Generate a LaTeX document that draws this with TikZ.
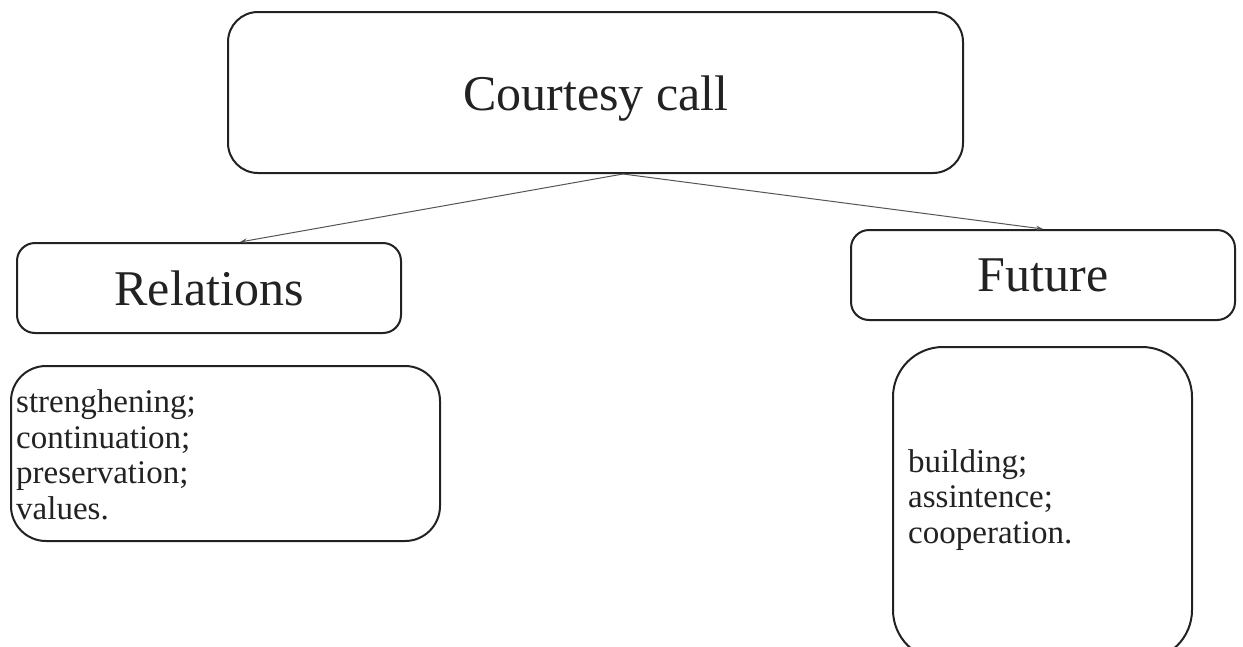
\documentclass[tikz,border=0pt]{standalone}
\usepackage{fontspec}
\setmainfont{Liberation Serif}
\usetikzlibrary{calc,arrows.meta}
\definecolor{ink}{HTML}{222222}
\definecolor{wire}{HTML}{555555}
\tikzset{
  box/.style={draw=ink, line width=2pt, inner sep=0pt},
  title/.style={anchor=base, text=ink, font=\fontsize{50}{60}\selectfont, inner sep=0pt},
  items/.style={anchor=base west, text=ink, align=left, inner sep=0pt, font=\fontsize{33}{35.5}\selectfont},
  link/.style={draw=wire, line width=1pt, -{Stealth[length=7pt,width=5pt]}}
}
\begin{document}
\begin{tikzpicture}[x=1pt,y=-1pt]
\useasboundingbox (0,0) rectangle (1243,646);
\clip (0,0) rectangle (1243,646);
\path[fill=white] (0,0) rectangle (1243,646);
% boxes
\node[box, rounded corners=30pt, minimum width=735pt, minimum height=161pt] (top) at (595.5,92.5) {};
\node[box, rounded corners=18pt, minimum width=384pt, minimum height=90pt] (rel) at (209,288) {};
\node[box, rounded corners=18pt, minimum width=384pt, minimum height=90pt] (fut) at (1043,275) {};
\node[box, rounded corners=35pt, minimum width=429pt, minimum height=175pt] (relitems) at (225.5,453.5) {};
\node[box, rounded corners=50pt, minimum width=299pt, minimum height=313pt] (futitems) at (1042.5,503.5) {};
% texts
\node[title] (toptxt) at (596,110) {Courtesy call};
\node[title] (reltxt) at (209,305) {Relations};
\node[title] (futtxt) at (1043,291) {Future};
\node[items] (reltext) at (16,519) {strenghening;\\continuation;\\preservation;\\values.};
\node[items] (futtext) at (908,543) {building;\\assintence;\\cooperation.};
% connectors
\coordinate (src) at ($(top.south)+(27.5,0)$);
\draw[link] (src) -- ($(rel.north)+(31,0)$);
\draw[link] (src) -- (fut.north);
\end{tikzpicture}
\end{document}
